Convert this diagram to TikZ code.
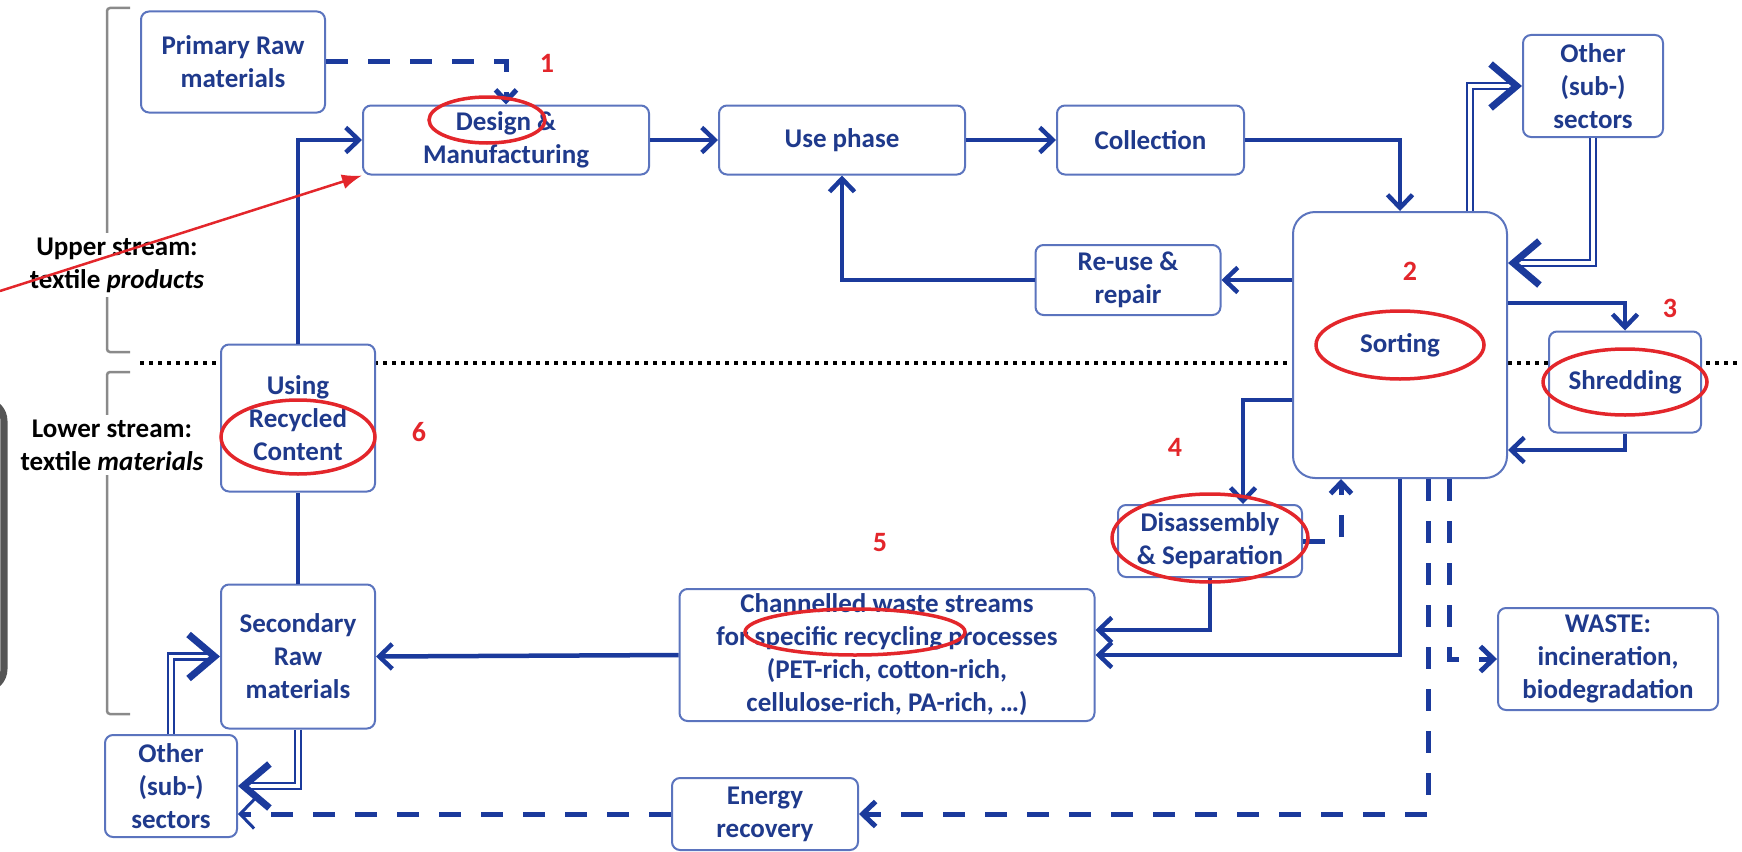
\documentclass[tikz,border=0pt]{standalone}
\usepackage{fontspec}
\setmainfont{Carlito}
\usepackage{tikz}
\usetikzlibrary{arrows.meta, calc, positioning}
\definecolor{FlowBlue}{HTML}{1B3A9C}
\definecolor{BoxBlue}{HTML}{5B74BE}
\definecolor{TextBlue}{HTML}{1F3A8C}
\definecolor{MarkRed}{HTML}{E3262B}
\definecolor{BracketGray}{HTML}{8A8A8A}
\definecolor{EdgeGray}{HTML}{555555}
\tikzset{%
  flow_block/.style={%
    rectangle,%
    draw=BoxBlue,%
    line width=2pt,%
    rounded corners=8pt,%
    fill=white,%
    text=TextBlue,%
    font={\fontsize{27pt}{33pt}\selectfont\bfseries},%
    align=center,%
    inner sep=2pt,%
  },
  flow_path/.style={%
    color=FlowBlue,%
    line width=4.5pt,%
  },
  flow_dash/.style={%
    color=FlowBlue,%
    line width=5pt,%
    dash pattern=on 22pt off 20pt,%
  },
  flow_double/.style={%
    draw=FlowBlue,%
    double=white,%
    double distance=3.5pt,%
    line width=2.5pt,%
  },
  arrow/.style={-{Straight Barb[length=13pt, width=25pt]}},
  small_arrow/.style={-{Straight Barb[length=11pt, width=21pt]}},
  thin_arrow/.style={-{Straight Barb[length=14pt, width=29pt, line width=3pt]}},
  big_arrow/.style={-{Straight Barb[length=26pt, width=44pt, line width=7pt]}},
  red_ring/.style={%
    draw=MarkRed,%
    line width=3.5pt,%
  },
  red_number/.style={%
    text=MarkRed,%
    font={\fontsize{28pt}{32pt}\selectfont\bfseries},%
  },
  red_arrow/.style={%
    draw=MarkRed,%
    line width=2.5pt,%
    -{Latex[length=20pt, width=15pt]},%
  },
  stream_label/.style={%
    fill=white,%
    align=center,%
    inner sep=5pt,%
    font={\fontsize{27pt}{33pt}\selectfont\bfseries},%
  },
  bracket_path/.style={%
    draw=BracketGray,%
    line width=2.5pt,%
    rounded corners=3pt,%
  },
  divider/.style={%
    draw=black,%
    line width=4pt,%
    dash pattern=on 4pt off 5pt,%
  },
  edge_box/.style={%
    draw=EdgeGray,%
    line width=7pt,%
    rounded corners=20pt,%
  },
}
\begin{document}
\begin{tikzpicture}[x=1pt, y=-1pt]
    \useasboundingbox (0,0) rectangle (1742,851);

    % frame of the two streams
    \draw [edge_box] (-40,401) rectangle (4,689);
    \draw [bracket_path] (130,8) -- (107,8) -- (107,352) -- (130,352);
    \draw [bracket_path] (130,372) -- (107,372) -- (107,714) -- (130,714);
    \draw [divider] (140,363) -- (1742,363);

    \node [stream_label] (UpperLabel) at (117,265) {Upper stream:\\textile \textit{products}};
    \node [stream_label] (LowerLabel) at (112,445) {Lower stream:\\textile \textit{materials}};

    % upper stream
    \node [flow_block, minimum width=184pt, minimum height=101pt] (Primary) at (233,62) {Primary Raw\\materials};
    \node [flow_block, minimum width=286pt, minimum height=69pt] (Design) at (506,140) {Design \&\\Manufacturing};
    \node [flow_block, minimum width=246pt, minimum height=69pt, right = 68pt of Design] (UsePhase) {Use phase};
    \node [flow_block, minimum width=187pt, minimum height=69pt, right = 90pt of UsePhase] (Collection) {Collection};
    \node [flow_block, minimum width=140pt, minimum height=102pt] (OtherTop) at (1593,86) {Other\\(sub-)\\sectors};
    \node [flow_block, minimum width=214pt, minimum height=266pt, rounded corners=22pt] (Sorting) at (1400,345) {Sorting};
    \node [flow_block, minimum width=185pt, minimum height=70pt] (Reuse) at (1128,280) {Re-use \&\\repair};
    \node [flow_block, minimum width=152pt, minimum height=101pt] (Shredding) at (1625,382) {Shredding};

    % lower stream
    \node [flow_block, minimum width=154pt, minimum height=147pt] (Using) at (298,418) {Using\\Recycled\\Content};
    \node [flow_block, minimum width=154pt, minimum height=144pt, below = 91pt of Using] (Secondary) {Secondary\\Raw\\materials};
    \node [flow_block, minimum width=132pt, minimum height=102pt] (OtherBottom) at (171,786) {Other\\(sub-)\\sectors};
    \node [flow_block, minimum width=184pt, minimum height=72pt] (Disassembly) at (1210,541) {Disassembly\\\& Separation};
    \node [flow_block, minimum width=415pt, minimum height=132pt] (Channelled) at (887,655) {Channelled waste streams\\for specific recycling processes\\(PET-rich, cotton-rich,\\cellulose-rich, PA-rich, \dots)};
    \node [flow_block, minimum width=186pt, minimum height=72pt] (Energy) at (765,814) {Energy\\recovery};
    \node [flow_block, minimum width=220pt, minimum height=102pt] (Waste) at (1608,659) {WASTE:\\incineration,\\biodegradation};

    \draw [small_arrow, flow_dash]
      (Primary.east) -| (Design.north);
    \draw [flow_path]
      (Secondary.north) -- (Using.south);
    \draw [arrow, flow_path]
      (Using.north) |- (Design.west);
    \draw [arrow, flow_path]
      (Design.east) -- (UsePhase.west);
    \draw [arrow, flow_path]
      (UsePhase.east) -- (Collection.west);
    \draw [arrow, flow_path]
      (Collection.east) -| (Sorting.north);
    \draw [arrow, flow_path]
      (Sorting.west |- Reuse.east) -- (Reuse.east);
    \draw [arrow, flow_path]
      (Reuse.west) -| (UsePhase.south);
    \draw [big_arrow, flow_double]
      ($(Sorting.north)+(70,0)$) |- (OtherTop.west);
    \draw [big_arrow, flow_double]
      (OtherTop.south) |- ($(Sorting.east)+(0,-82)$);
    \draw [arrow, flow_path]
      ($(Sorting.east)+(0,-42)$) -| (Shredding.north);
    \draw [arrow, flow_path]
      (Shredding.south) |- ($(Sorting.east)+(0,105)$);
    \draw [arrow, flow_path]
      ($(Sorting.west)+(0,55)$) -| ($(Disassembly.north)+(33,0)$);
    \draw [small_arrow, flow_dash]
      (Disassembly.east) -| ($(Sorting.south west)+(49,0)$);
    \draw [arrow, flow_path]
      (Disassembly.south) |- ($(Channelled.east)+(0,-25)$);
    \draw [arrow, flow_path]
      (Sorting.south) |- (Channelled.east);
    \draw [arrow, flow_path]
      (Channelled.west) -- (Secondary.east);
    \draw [arrow, flow_dash]
      ($(Sorting.south)+(49,0)$) |- (Waste.west);
    \draw [arrow, flow_dash]
      ($(Sorting.south)+(28,0)$) |- (Energy.east);
    \draw [thin_arrow, flow_dash]
      (Energy.west) -- (Energy.west -| OtherBottom.east);
    \draw [big_arrow, flow_double]
      (Secondary.south) |- (OtherBottom.east);
    \draw [big_arrow, flow_double]
      (OtherBottom.north) |- (Secondary.west);

    % marks
    \draw [red_ring] ($(Design.center)+(-19,-20)$) ellipse [x radius=58, y radius=23];
    \draw [red_ring] (Sorting.center) ellipse [x radius=84, y radius=34];
    \draw [red_ring] (Shredding.center) ellipse [x radius=82, y radius=33];
    \draw [red_ring] ($(Using.center)+(0,19)$) ellipse [x radius=77, y radius=37];
    \draw [red_ring] ($(Disassembly.center)+(0,-3)$) ellipse [x radius=98, y radius=44];
    \draw [red_ring] ($(Channelled.center)+(-32,-23)$) ellipse [x radius=110, y radius=23];

    \node [red_number] (Num1) at (547,63) {1};
    \node [red_number] (Num2) at (1410,271) {2};
    \node [red_number] (Num3) at (1670,308) {3};
    \node [red_number] (Num4) at (1175,447) {4};
    \node [red_number] (Num5) at (880,543) {5};
    \node [red_number] (Num6) at (419,432) {6};

    \coordinate (RedStart) at (0,291);
    \draw [red_arrow] (RedStart) -- (Design.south west);
\end{tikzpicture}
\end{document}
